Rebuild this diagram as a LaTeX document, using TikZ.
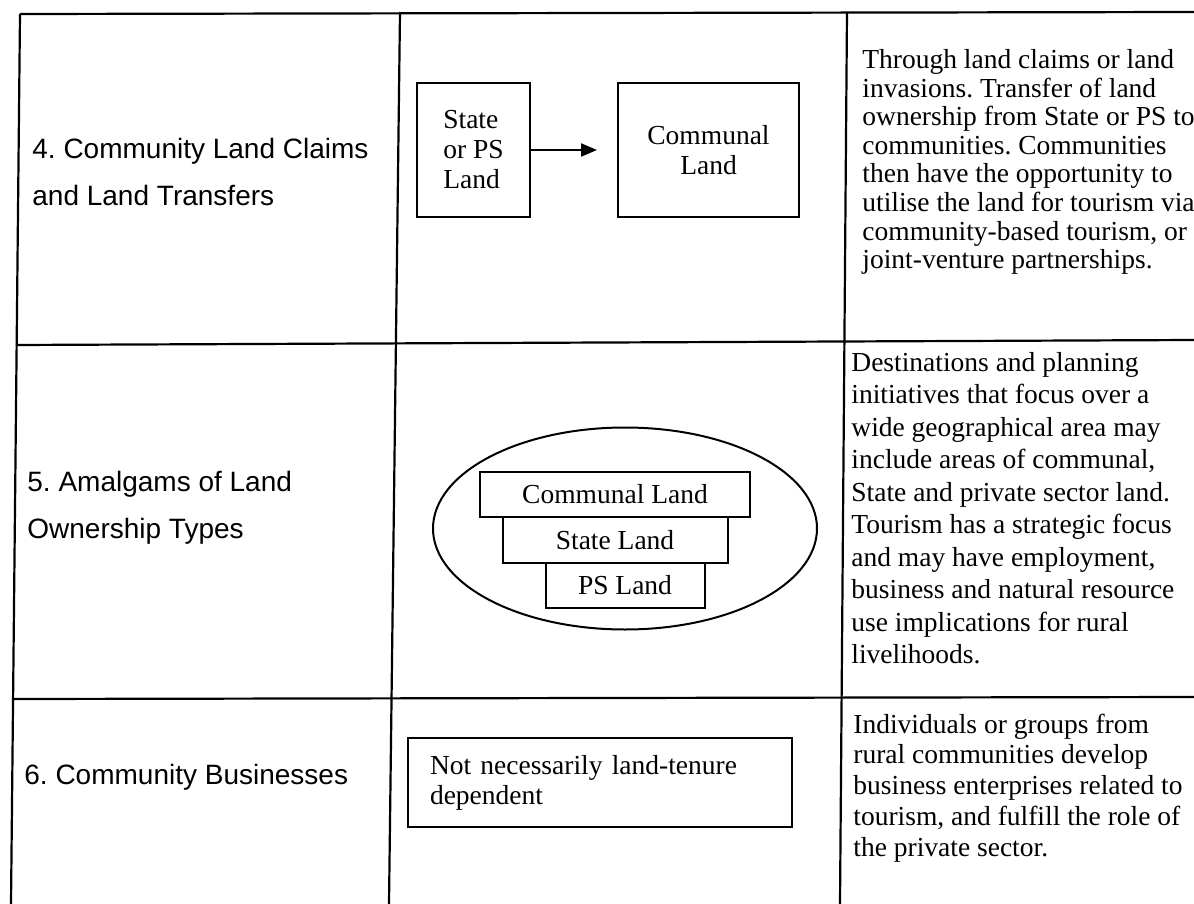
\documentclass[tikz,border=0pt]{standalone}
\usepackage{fontspec}
\setmainfont{Liberation Serif}
\setsansfont{Liberation Sans}
\usetikzlibrary{arrows.meta, positioning, shapes.geometric}
\frenchspacing

\begin{document}
\begin{tikzpicture}[
  x=0.5pt, y=-0.5pt,
  rule/.style = {line width=1.1pt},
  head/.style = {anchor=west, inner sep=0pt, align=left,
                 font=\sffamily\fontsize{14}{23.5}\selectfont},
  desc/.style = {anchor=west, inner sep=0pt, align=left},
  box/.style  = {draw, line width=1pt, outer sep=0pt, inner sep=0pt,
                 font=\fontsize{13.75}{15}\selectfont},
  arr/.style  = {-{Triangle[length=8pt, width=6.5pt]}, line width=1pt}
]
\useasboundingbox[fill=white] (0,0) rectangle (1194,904);

% table rules
\draw[rule] (20,14) -- (1194,12);
\draw[rule] (20,14) -- (11,904);
\draw[rule] (400,12) -- (389,904);
\draw[rule] (847,12) -- (840,904);
\draw[rule] (16,345) -- (1194,340);
\draw[rule] (13,699) -- (1194,697);

% first column
\node[head] (t4) at (32,171.5) {4. Community Land Claims\\and Land Transfers};
\node[head] (t5) at (27,507.5) {5. Amalgams of Land\\Ownership Types};
\node[head] (t6) at (24,777)   {6. Community Businesses};

% second column
\node[box, minimum width=56.5pt, minimum height=67pt, align=left]
     (src) at (473.5,150) {State\\or PS\\Land};
\node[box, minimum width=90.5pt, minimum height=66.5pt, align=center,
      right=44pt of src] (comm) {Communal\\Land};
\draw[arr, shorten >=10.5pt] (src) -- (comm);

\node[draw, ellipse, line width=1pt, inner sep=0pt,
      minimum width=192pt, minimum height=101pt] (zone) at (625,528.5) {};
\node[box, minimum width=135pt, minimum height=22.5pt] (cl) at (615,494.5) {Communal Land};
\node[box, minimum width=112.5pt, minimum height=23pt, below=0pt of cl] (sl) {State Land};
\node[box, minimum width=79.5pt, minimum height=22.5pt, below=0pt of sl, xshift=5pt] (pl) {PS Land};

\node[box, text width=170pt, inner xsep=11pt, minimum height=44.5pt, align=left]
     (dep) at (600,782.5) {Not necessarily land-tenure\\dependent};

% third column
\node[desc, font=\fontsize{13.75}{14.3}\selectfont] (d4) at (862,162)
  {Through land claims or land\\invasions. Transfer of land\\ownership from State or PS to\\communities. Communities\\then have the opportunity to\\utilise the land for tourism via\\community-based tourism, or\\joint-venture partnerships.};
\node[desc, font=\fontsize{13.75}{16.25}\selectfont] (d5) at (851,508)
  {Destinations and planning\\initiatives that focus over a\\wide geographical area may\\include areas of communal,\\State and private sector land.\\Tourism has a strategic focus\\and may have employment,\\business and natural resource\\use implications for rural\\livelihoods.};
\node[desc, font=\fontsize{13.75}{15.4}\selectfont] (d6) at (853,788)
  {Individuals or groups from\\rural communities develop\\business enterprises related to\\tourism, and fulfill the role of\\the private sector.};
\end{tikzpicture}
\end{document}
